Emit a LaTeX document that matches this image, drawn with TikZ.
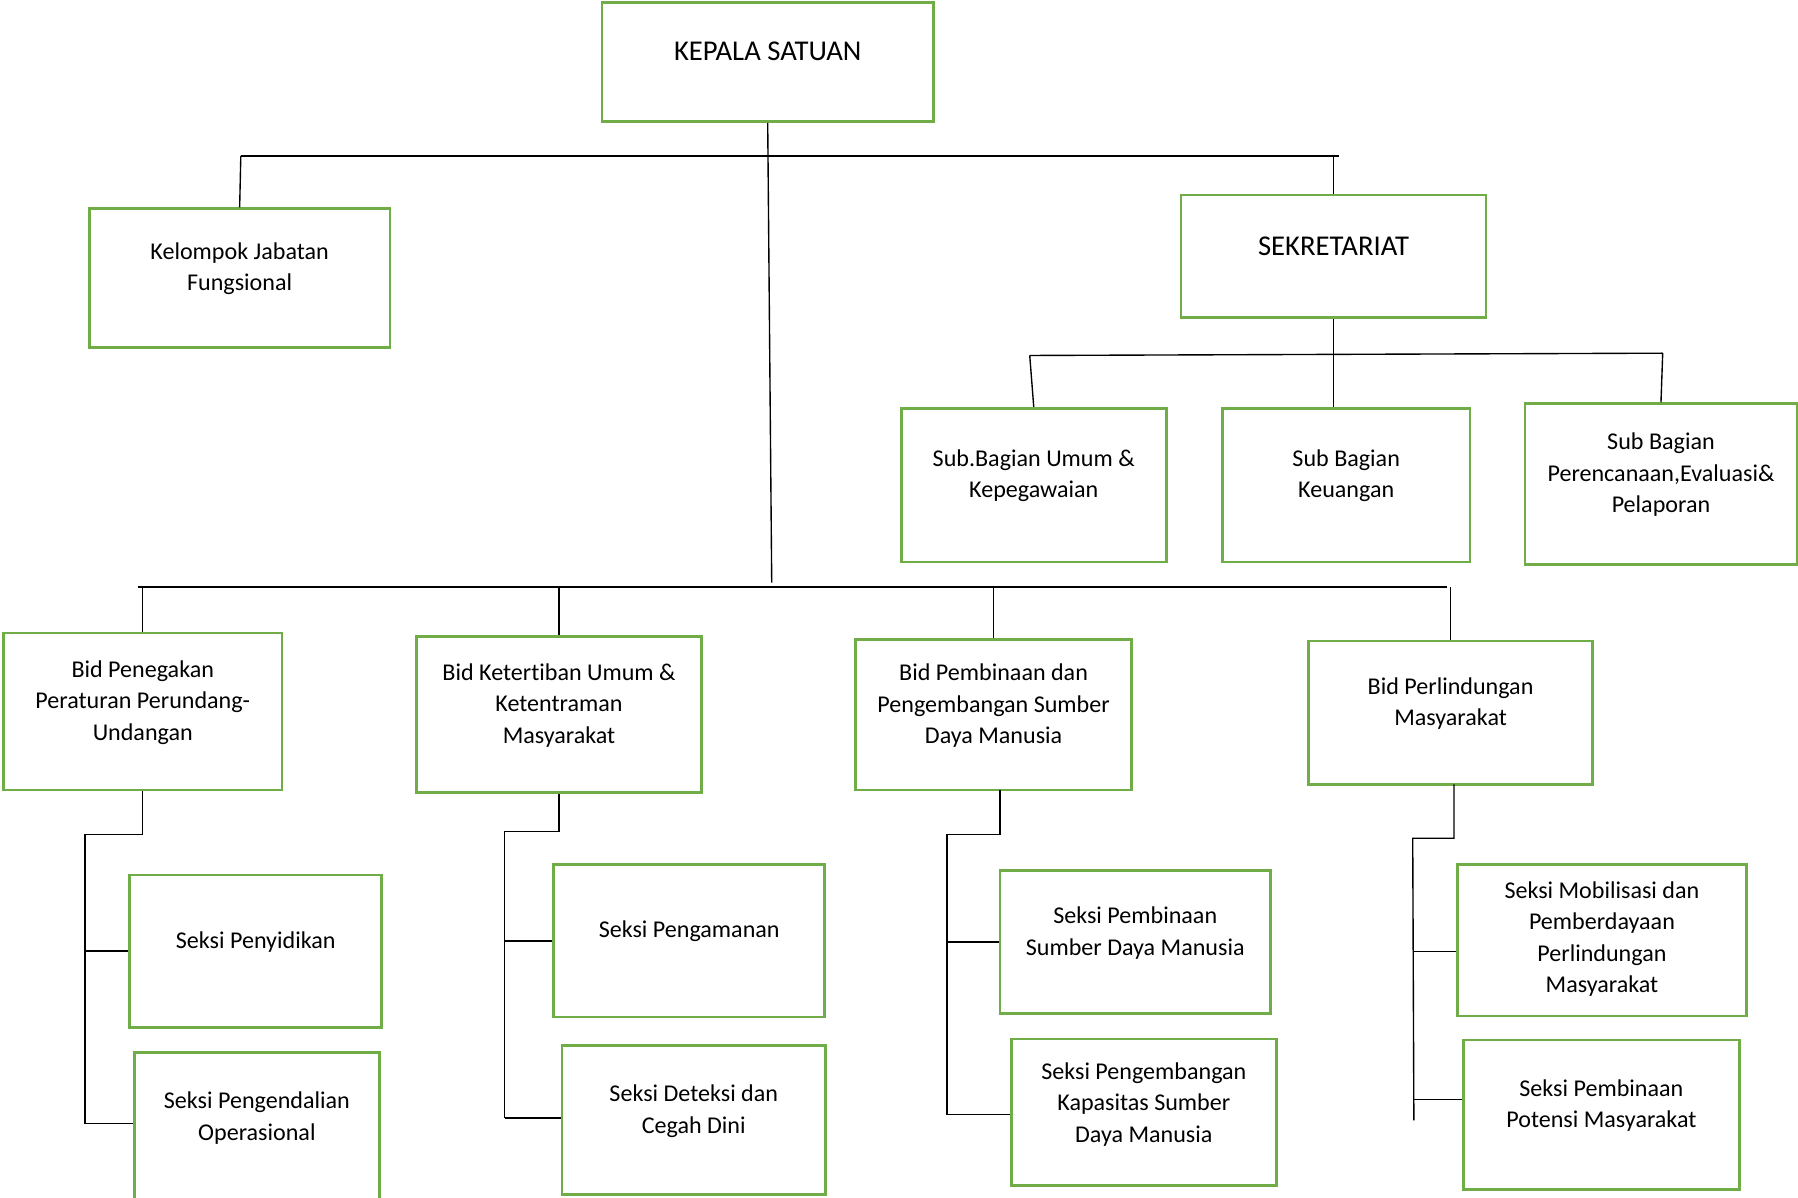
\documentclass[tikz,border=0pt]{standalone}
\usepackage{fontspec}
\setmainfont{Carlito}[Ligatures={NoCommon}]
\definecolor{boxgreen}{RGB}{112,173,71}
\tikzset{
    box/.style = {rectangle, draw=boxgreen, line width=2.4pt, inner sep=0pt},
    txt/.style = {align=center, font=\fontsize{21}{27.5}\selectfont, yshift=8pt},
    txtb/.style = {align=center, font=\fontsize{25}{30}\selectfont, yshift=9pt},
    conn/.style = {draw=black, line width=1.2pt}
}
\begin{document}
\begin{tikzpicture}[x=1pt,y=-1pt]
\useasboundingbox (0,0) rectangle (1568,1044);
%
\node[box, minimum width=289pt, minimum height=104pt, label={[txtb]center:{KEPALA SATUAN}}] at (669.5,54) (ks) {};
\node[box, minimum width=262pt, minimum height=121pt, label={[txt]center:{Kelompok Jabatan\\Fungsional}}] at (209,242.5) (kel) {};
\node[box, minimum width=266pt, minimum height=107pt, label={[txtb]center:{SEKRETARIAT}}] at (1163,223.5) (sek) {};
\node[box, minimum width=231pt, minimum height=134pt, label={[txt]center:{Sub.Bagian Umum \&\\Kepegawaian}}] at (901.5,423) (sbu) {};
\node[box, minimum width=216pt, minimum height=134pt, label={[txt]center:{Sub Bagian\\Keuangan}}] at (1174,423) (sbk) {};
\node[box, minimum width=237pt, minimum height=140pt, label={[txt]center:{Sub Bagian\\Perencanaan,Evaluasi\&\\Pelaporan}}] at (1448.5,422) (sbp) {};
%
\node[box, minimum width=243pt, minimum height=137pt, label={[txt]center:{Bid Penegakan\\Peraturan Perundang-\\Undangan}}] at (124.5,620.5) (bpp) {};
\node[box, minimum width=249pt, minimum height=136pt, label={[txt]center:{Bid Ketertiban Umum \&\\Ketentraman\\Masyarakat}}] at (487.5,623) (bku) {};
\node[box, minimum width=241pt, minimum height=131pt, label={[txt]center:{Bid Pembinaan dan\\Pengembangan Sumber\\Daya Manusia}}] at (866.5,623.5) (bps) {};
\node[box, minimum width=248pt, minimum height=125pt, label={[txt]center:{Bid Perlindungan\\Masyarakat}}] at (1265,621.5) (bpl) {};
%
\node[box, minimum width=220pt, minimum height=133pt, label={[txt]center:{Seksi Penyidikan}}] at (223,829.5) (spy) {};
\node[box, minimum width=214pt, minimum height=132pt, label={[txt,yshift=1pt]center:{Seksi Pengendalian\\Operasional}}] at (224,984) (spo) {};
\node[box, minimum width=236pt, minimum height=133pt, label={[txt]center:{Seksi Pengamanan}}] at (601,820.5) (spg) {};
\node[box, minimum width=230pt, minimum height=130pt, label={[txt]center:{Seksi Deteksi dan\\Cegah Dini}}] at (605,977) (sdc) {};
\node[box, minimum width=236pt, minimum height=125pt, label={[txt]center:{Seksi Pembinaan\\Sumber Daya Manusia}}] at (990,821.5) (ssd) {};
\node[box, minimum width=231pt, minimum height=128pt, label={[txt,yshift=-1pt]center:{Seksi Pengembangan\\Kapasitas Sumber\\Daya Manusia}}] at (997.5,970) (skp) {};
\node[box, minimum width=252pt, minimum height=132pt, label={[txt,yshift=-7pt]center:{Seksi Mobilisasi dan\\Pemberdayaan\\Perlindungan\\Masyarakat}}] at (1397,820) (smb) {};
\node[box, minimum width=241pt, minimum height=130pt, label={[txt]center:{Seksi Pembinaan\\Potensi Masyarakat}}] at (1396.5,972) (spm) {};
%
\coordinate (topL) at (210,136);
\coordinate (topR) at (1168,136);
\coordinate (ksend) at (673,508);
\coordinate (subL) at (898,310);
\coordinate (subR) at (1450,308);
\coordinate (barL) at (120,512);
\coordinate (barR) at (1262,512);
\coordinate (ppT) at (74,728);
\coordinate (ppB) at (74,980);
\coordinate (kuT) at (440,725);
\coordinate (kuB) at (440,975);
\coordinate (psJ) at (872,689);
\coordinate (psT) at (826,728);
\coordinate (psB) at (826,972);
\coordinate (plJ) at (1268,684);
\coordinate (plT) at (1232,731);
\coordinate (plB) at (1233,977);
\coordinate (plM) at (1232,830);
\coordinate (plN) at (1233,959);
%
\draw[conn] (ks.south) -- (ksend);
\draw[conn] (topL) -- (topR);
\draw[conn] (topL) -- (kel.north);
\draw[conn] (sek.north) -- (sek.north |- topR);
%
\draw[conn] (sek.south) -- (sek.south |- sbk.north);
\draw[conn] (subL) -- (subR);
\draw[conn] (subL) -- (sbu.north);
\draw[conn] (subR) -- (sbp.north);
%
\draw[conn] (barL) -- (barR);
\draw[conn] (bpp.north) -- (bpp.north |- barL);
\draw[conn] (bku.north) -- (bku.north |- barL);
\draw[conn] (bps.north) -- (bps.north |- barL);
\draw[conn] (bpl.north) -- (bpl.north |- barL);
%
\draw[conn] (bpp.south) |- (ppT) -- (ppB);
\draw[conn] (spy.west -| ppT) -- (spy.west);
\draw[conn] (ppB) -- (ppB -| spo.west);
\draw[conn] (bku.south) |- (kuT) -- (kuB);
\draw[conn] (spg.west -| kuT) -- (spg.west);
\draw[conn] (kuB) -- (kuB -| sdc.west);
\draw[conn] (psJ) |- (psT) -- (psB);
\draw[conn] (ssd.west -| psT) -- (ssd.west);
\draw[conn] (psB) -- (psB -| skp.west);
\draw[conn] (plJ) |- (plT) -- (plB);
\draw[conn] (plM) -- (plM -| smb.west);
\draw[conn] (plN) -- (plN -| spm.west);
\end{tikzpicture}
\end{document}
